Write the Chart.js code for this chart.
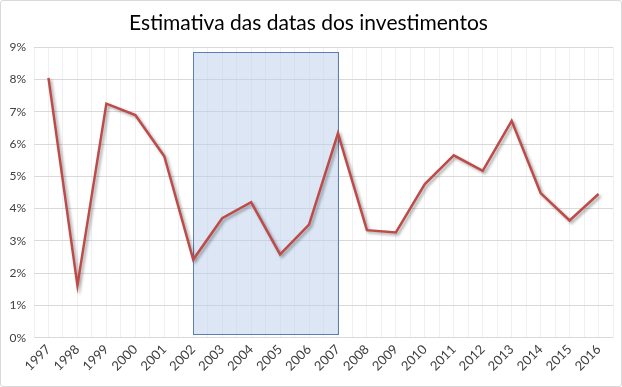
<!DOCTYPE html>
<html>
<head>
<meta charset="utf-8">
<script src="https://cdn.jsdelivr.net/npm/chart.js@4/dist/chart.umd.min.js"></script>
<style>
    html, body { margin: 0; padding: 0; background: #fff; }
    #wrap { width: 622px; height: 387px; box-sizing: border-box; border: 1px solid #d9d9d9; border-radius: 3px; }
</style>
</head>
<body>
<div id="wrap"><canvas id="mycanvas"></canvas></div>
<script>
var years = ['1997', '1998', '1999', '2000', '2001', '2002', '2003', '2004', '2005', '2006',
             '2007', '2008', '2009', '2010', '2011', '2012', '2013', '2014', '2015', '2016'];
var rates = [8.05, 1.62, 7.25, 6.9, 5.62, 2.42, 3.7, 4.2, 2.58, 3.5,
             6.33, 3.33, 3.26, 4.76, 5.65, 5.17, 6.72, 4.48, 3.63, 4.45];
var yTicks = [0, 1, 2, 3, 4, 5, 6, 7, 8, 9];
// highlighted period
var shadeYears = ['2002', '2007'];
var shadeRange = [0.1, 8.85];

var shadePlugin = {
    id: 'shade',
    beforeDatasetsDraw: function (chart) {
        var x = chart.scales.x, y = chart.scales.y, ctx = chart.ctx;
        var x0 = x.getPixelForValue(years.indexOf(shadeYears[0]));
        var x1 = x.getPixelForValue(years.indexOf(shadeYears[1]));
        var y0 = y.getPixelForValue(shadeRange[1]);
        var y1 = y.getPixelForValue(shadeRange[0]);
        ctx.save();
        ctx.fillStyle = 'rgba(185, 205, 235, 0.5)';
        ctx.fillRect(x0, y0, x1 - x0, y1 - y0);
        ctx.strokeStyle = '#5b7fb5';
        ctx.lineWidth = 1;
        ctx.strokeRect(Math.round(x0) + 0.5, Math.round(y0) + 0.5, Math.round(x1 - x0), Math.round(y1 - y0));
        ctx.restore();
    }
};

var shadowPlugin = {
    id: 'lineShadow',
    beforeDatasetDraw: function (chart) {
        var ctx = chart.ctx;
        ctx.save();
        ctx.shadowColor = 'rgba(0,0,0,0.35)';
        ctx.shadowBlur = 3;
        ctx.shadowOffsetX = 2;
        ctx.shadowOffsetY = 2;
    },
    afterDatasetDraw: function (chart) {
        chart.ctx.restore();
    }
};

var ctx = document.getElementById('mycanvas');

var lineGraph = new Chart(ctx, {
    type: 'line',
    data: {
        labels: years,
        datasets: [{
            label: 'Taxa',
            data: rates,
            borderColor: '#be4b48',
            borderWidth: 2.5,
            pointRadius: 0,
            tension: 0,
            fill: false
        }]
    },
    options: {
        responsive: true,
        maintainAspectRatio: false,
        animation: false,
        layout: { padding: { left: 3, right: 8, top: 0, bottom: 8 } },
        plugins: {
            legend: { display: false },
            tooltip: { enabled: false },
            title: {
                display: true,
                text: 'Estimativa das datas dos investimentos',
                color: '#000',
                font: { family: 'Lato', size: 21, weight: 'normal' },
                padding: { top: 10, bottom: 11 }
            }
        },
        scales: {
            x: {
                offset: true,
                grid: { offset: false, color: '#f0f0f0', drawTicks: false },
                border: { display: false },
                ticks: {
                    color: '#404040',
                    font: { family: 'Lato', size: 13 },
                    minRotation: 45,
                    maxRotation: 45,
                    autoSkip: false,
                    padding: 4
                }
            },
            x2: {
                type: 'category',
                labels: years,
                position: 'bottom',
                offset: true,
                grid: { offset: true, color: '#f0f0f0', drawTicks: false },
                border: { display: false },
                ticks: { display: false },
                afterFit: function (scale) { scale.height = 0; }
            },
            y: {
                min: 0,
                max: 9,
                afterBuildTicks: function (scale) {
                    scale.ticks = yTicks.map(function (v) { return { value: v }; });
                },
                grid: { color: '#d9d9d9', drawTicks: false },
                border: { display: false },
                ticks: {
                    color: '#404040',
                    font: { family: 'Lato', size: 12 },
                    padding: 8,
                    callback: function (v) { return v + '%'; }
                },
                afterFit: function (scale) { scale.width = 30; }
            }
        }
    },
    plugins: [shadePlugin, shadowPlugin]
});
</script>
</body>
</html>
